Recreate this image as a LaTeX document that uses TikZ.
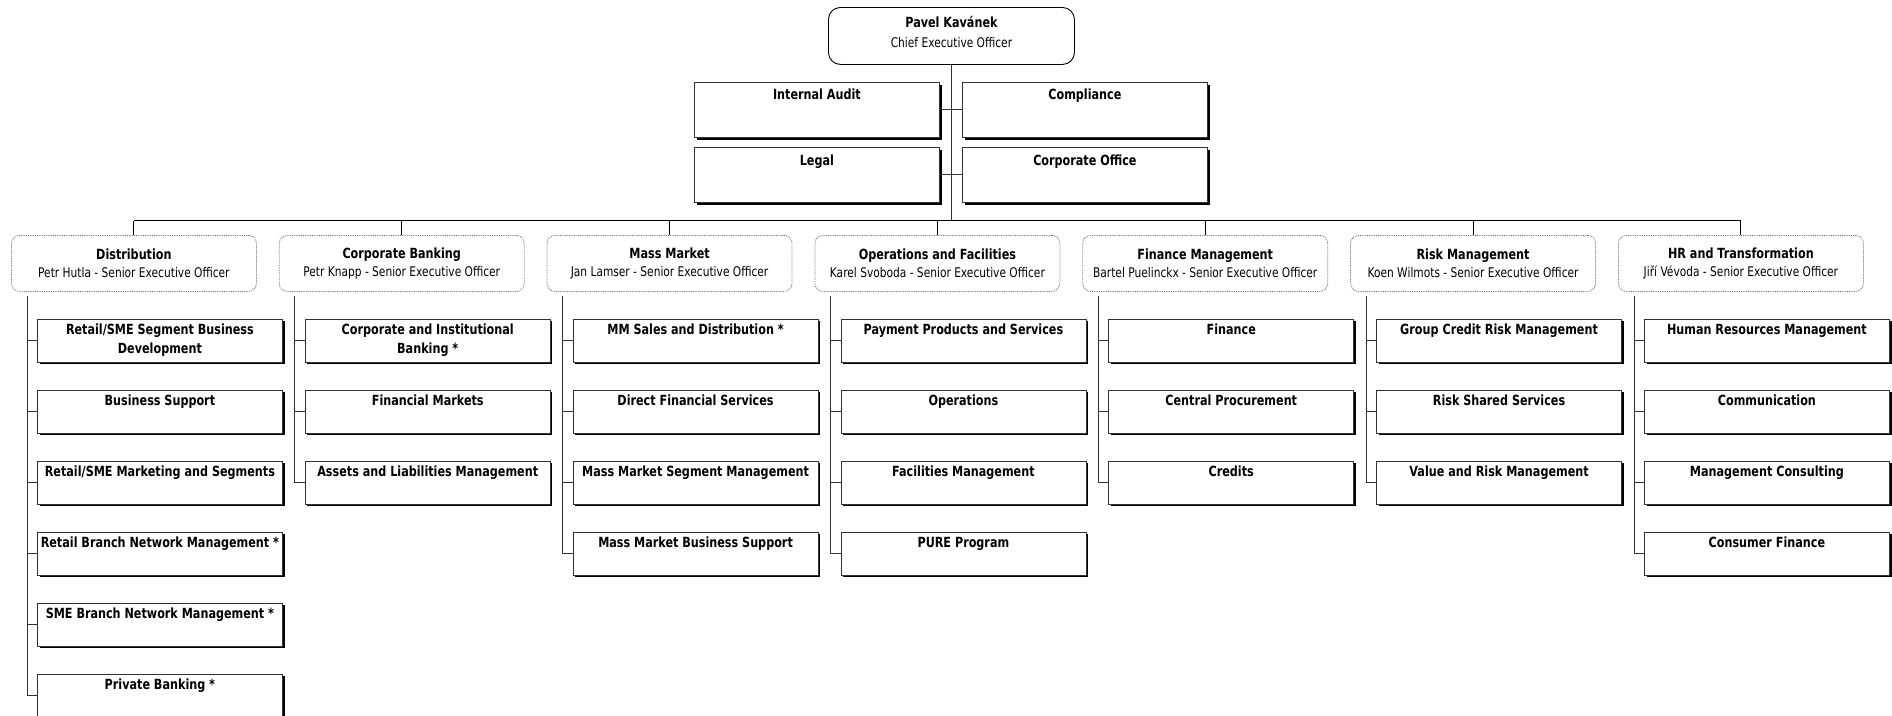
\documentclass[tikz,border=0pt]{standalone}
\usepackage{fontspec}
\setmainfont{DejaVu Sans}[FakeStretch=0.8]
\usetikzlibrary{shadows,calc}
\tikzset{
  conn/.style={draw=black!80, line width=0.9pt},
  busline/.style={draw=black, line width=1pt},
  unit/.style={rectangle, draw=black!80, line width=0.8pt, fill=white, minimum width=245pt, minimum height=43pt, inner sep=0pt, anchor=north west, drop shadow={shadow xshift=2.2pt, shadow yshift=-2.2pt, opacity=1, fill=black}},
  staff/.style={unit, minimum height=55pt},
  unittext/.style={anchor=north, align=center, inner sep=0pt, font=\bfseries\fontsize{14}{19}\selectfont},
  head/.style={rectangle, rounded corners=8pt, draw=black!60, densely dotted, line width=0.8pt, fill=white, minimum width=245pt, minimum height=56pt, anchor=north west, align=center, inner sep=0pt, font=\fontsize{13.3}{18}\selectfont},
  ceobox/.style={rectangle, rounded corners=12pt, draw=black, line width=0.9pt, fill=white, minimum width=246pt, minimum height=57pt, anchor=north west, inner sep=0pt},
  ceotext/.style={align=center, inner sep=0pt, font=\fontsize{13.3}{20}\selectfont},
}
\newcommand\orgunit[4]{%
  \node[unit] (#1) at ({37+267.83*#2},{318.5+71*#3}) {};
  \node[unittext] (#1t) at ($(#1.north)+(0,5.5)$) {#4};
}
\newcommand\orgspine[3]{%
  \coordinate (#1v) at ($(#1.south west)+(16,4)$);
  \draw[conn] (#1v) |- (#2.west);
  \foreach \u in {#3} {\draw[conn] (#1v |- \u.west) -- (\u.west);}
}
\newcommand\hd[2]{{\bfseries\fontsize{14}{18}\selectfont #1}\\#2 - Senior Executive Officer}
\begin{document}
\begin{tikzpicture}[x=1pt,y=-1pt]
\useasboundingbox (0,0) rectangle (1892,715);

% CEO and staff
\node[ceobox] (ceo) at (828,7) {};
\node[ceotext] (ceot) at ($(ceo.center)+(0,-3.5)$) {{\bfseries\fontsize{14}{20}\selectfont Pavel Kavánek}\\Chief Executive Officer};
\node[staff] (ia) at (694,82) {};
\node[unittext] (iat) at ($(ia.north)+(0,7)$) {Internal Audit};
\node[staff] (cp) at (962,82) {};
\node[unittext] (cpt) at ($(cp.north)+(0,7)$) {Compliance};
\node[staff] (lg) at (694,147) {};
\node[unittext] (lgt) at ($(lg.north)+(0,7.5)$) {Legal};
\node[staff] (co) at (962,147) {};
\node[unittext] (cot) at ($(co.north)+(0,7.5)$) {Corporate Office};

\coordinate (busY) at (0,220.5);

% heads
\node[head] (h0) at (11,235) {\hd{Distribution}{Petr Hutla}};
\node[head] (h1) at (278.83,235) {\hd{Corporate Banking}{Petr Knapp}};
\node[head] (h2) at (546.66,235) {\hd{Mass Market}{Jan Lamser}};
\node[head] (h3) at (814.49,235) {\hd{Operations and Facilities}{Karel Svoboda}};
\node[head] (h4) at (1082.32,235) {\hd{Finance Management}{Bartel Puelinckx}};
\node[head] (h5) at (1350.15,235) {\hd{Risk Management}{Koen Wilmots}};
\node[head] (h6) at (1617.98,235) {\hd{HR and Transformation}{Jiří Vévoda}};

% units
\orgunit{ua0}{0}{0}{Retail/SME Segment Business\\Development}
\orgunit{ua1}{0}{1}{Business Support}
\orgunit{ua2}{0}{2}{Retail/SME Marketing and Segments}
\orgunit{ua3}{0}{3}{Retail Branch Network Management *}
\orgunit{ua4}{0}{4}{SME Branch Network Management *}
\orgunit{ua5}{0}{5}{Private Banking *}

\orgunit{ub0}{1}{0}{Corporate and Institutional\\Banking *}
\orgunit{ub1}{1}{1}{Financial Markets}
\orgunit{ub2}{1}{2}{Assets and Liabilities Management}

\orgunit{uc0}{2}{0}{MM Sales and Distribution *}
\orgunit{uc1}{2}{1}{Direct Financial Services}
\orgunit{uc2}{2}{2}{Mass Market Segment Management}
\orgunit{uc3}{2}{3}{Mass Market Business Support}

\orgunit{ud0}{3}{0}{Payment Products and Services}
\orgunit{ud1}{3}{1}{Operations}
\orgunit{ud2}{3}{2}{Facilities Management}
\orgunit{ud3}{3}{3}{PURE Program}

\orgunit{ue0}{4}{0}{Finance}
\orgunit{ue1}{4}{1}{Central Procurement}
\orgunit{ue2}{4}{2}{Credits}

\orgunit{uf0}{5}{0}{Group Credit Risk Management}
\orgunit{uf1}{5}{1}{Risk Shared Services}
\orgunit{uf2}{5}{2}{Value and Risk Management}

\orgunit{ug0}{6}{0}{Human Resources Management}
\orgunit{ug1}{6}{1}{Communication}
\orgunit{ug2}{6}{2}{Management Consulting}
\orgunit{ug3}{6}{3}{Consumer Finance}

% connectors
\draw[conn] (ceo.south) -- (ceo.south |- busY);
\draw[conn] (ia.east) -- (cp.west);
\draw[conn] (lg.east) -- (co.west);
\draw[busline] (h0.north |- busY) -- (h6.north |- busY);
\foreach \h in {h0,h1,h2,h3,h4,h5,h6} {\draw[busline] (\h.north |- busY) -- (\h.north);}

\orgspine{h0}{ua5}{ua0,ua1,ua2,ua3,ua4}
\orgspine{h1}{ub2}{ub0,ub1}
\orgspine{h2}{uc3}{uc0,uc1,uc2}
\orgspine{h3}{ud3}{ud0,ud1,ud2}
\orgspine{h4}{ue2}{ue0,ue1}
\orgspine{h5}{uf2}{uf0,uf1}
\orgspine{h6}{ug3}{ug0,ug1,ug2}
\end{tikzpicture}
\end{document}
